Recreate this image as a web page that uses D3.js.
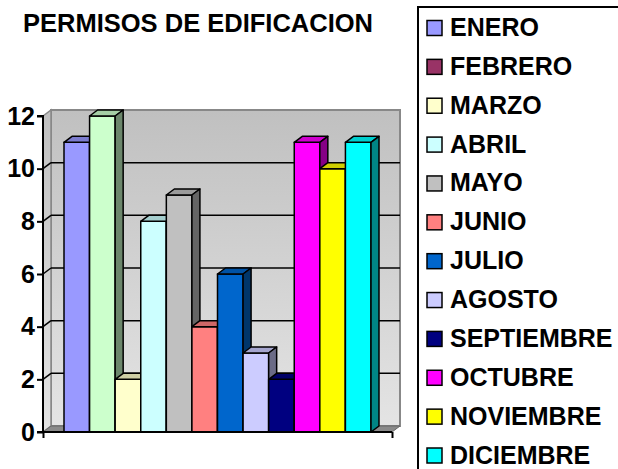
<!doctype html>
<html lang="es">
<head>
    <meta charset="UTF-8">
    <title>Permisos de edificacion</title>
    <style>
        body { margin: 0; background: #fff; }
        text { font-family: Arial, "Liberation Sans", sans-serif; font-weight: bold; }
    </style>
</head>
<body>
    <svg id="chart" width="618" height="469"></svg>
    <script src="https://d3js.org/d3.v7.min.js"></script>
    <script>
        // data
        let months = ["ENERO", "FEBRERO", "MARZO", "ABRIL", "MAYO", "JUNIO",
            "JULIO", "AGOSTO", "SEPTIEMBRE", "OCTUBRE", "NOVIEMBRE", "DICIEMBRE"];
        let permits = [11, 12, 2, 8, 9, 4, 6, 3, 2, 11, 10, 11];
        let yTicks = [0, 2, 4, 6, 8, 10, 12];
        let title = "PERMISOS DE EDIFICACION";

        // legend colours, and the bar colours (the february bar is drawn green in the original)
        let legendColors = ["#9999FF", "#993366", "#FFFFCC", "#CCFFFF", "#C0C0C0", "#FF8080",
            "#0066CC", "#CCCCFF", "#000080", "#FF00FF", "#FFFF00", "#00FFFF"];
        let barColors = ["#9999FF", "#CCFFCC", "#FFFFCC", "#CCFFFF", "#C0C0C0", "#FF8080",
            "#0066CC", "#CCCCFF", "#000080", "#FF00FF", "#FFFF00", "#00FFFF"];

        let svg = d3.select("#chart");

        // plot frame
        let left = 43, right = 392, base = 432;
        let dx = 8, dy = 6;

        let y = d3.scaleLinear().domain([0, 12]).range([base, 116]);
        let x = d3.scaleBand().domain(months).range([64, 371]).padding(0);

        let defs = svg.append("defs");
        let grad = defs.append("linearGradient")
            .attr("id", "wall").attr("x1", 0).attr("y1", 0).attr("x2", 0).attr("y2", 1);
        grad.append("stop").attr("offset", "0%").attr("stop-color", "#C0C0C0");
        grad.append("stop").attr("offset", "100%").attr("stop-color", "#E4E4E4");

        let yTop = y(12);

        // back wall
        svg.append("rect")
            .attr("x", left + dx).attr("y", yTop - dy)
            .attr("width", right - left).attr("height", base - yTop)
            .attr("fill", "url(#wall)")
            .attr("stroke", "#888").attr("stroke-width", 2);

        // left wall
        svg.append("polygon")
            .attr("points", [[left, yTop], [left + dx, yTop - dy], [left + dx, base - dy], [left, base]].join(" "))
            .attr("fill", "url(#wall)")
            .attr("stroke", "#888").attr("stroke-width", 1.5);

        // floor
        svg.append("polygon")
            .attr("points", [[left, base], [left + dx, base - dy], [right + dx, base - dy], [right, base]].join(" "))
            .attr("fill", "#8a8a8a")
            .attr("stroke", "#666").attr("stroke-width", 1);

        // gridlines on the walls
        let grid = svg.append("g").attr("stroke", "#000").attr("stroke-width", 1.5);
        yTicks.filter(d => d > 0 && d < 12).forEach(function(v) {
            grid.append("line")
                .attr("x1", left + dx).attr("x2", right + dx)
                .attr("y1", y(v) - dy).attr("y2", y(v) - dy);
            grid.append("line")
                .attr("x1", left).attr("x2", left + dx)
                .attr("y1", y(v)).attr("y2", y(v) - dy);
        });

        // bars, drawn left to right so each one covers the side of the one before
        let shade = (c, k) => d3.rgb(c).darker(k).formatHex();
        let bars = svg.append("g").attr("stroke", "#000").attr("stroke-width", 1.5)
            .attr("stroke-linejoin", "round");
        months.forEach(function(m, i) {
            let x0 = x(m), w = x.bandwidth(), yt = y(permits[i]), c = barColors[i];
            bars.append("rect")
                .attr("x", x0).attr("y", yt)
                .attr("width", w).attr("height", base - yt)
                .attr("fill", c);
            bars.append("polygon")
                .attr("points", [[x0, yt], [x0 + dx, yt - dy], [x0 + w + dx, yt - dy], [x0 + w, yt]].join(" "))
                .attr("fill", shade(c, 0.6));
            bars.append("polygon")
                .attr("points", [[x0 + w, yt], [x0 + w + dx, yt - dy], [x0 + w + dx, base - dy], [x0 + w, base]].join(" "))
                .attr("fill", shade(c, 1.8));
        });

        // axes
        let yAxis = svg.append("g")
            .attr("transform", `translate(${left},0)`)
            .call(d3.axisLeft(y).tickValues(yTicks).tickSize(6).tickPadding(2));
        yAxis.select(".domain").attr("stroke", "#000").attr("stroke-width", 2)
            .attr("d", `M-6,${base}H0V${yTop}H-6`);
        yAxis.selectAll(".tick line").attr("stroke", "#000").attr("stroke-width", 2);
        yAxis.selectAll("text").attr("font-size", 25).attr("font-family", null).attr("fill", "#000");

        let xAxis = svg.append("g")
            .attr("transform", `translate(0,${base})`)
            .call(d3.axisBottom(d3.scaleLinear().range([left, right])).tickValues([0, 1]).tickSize(6).tickFormat(""));
        xAxis.select(".domain").attr("stroke", "#000").attr("stroke-width", 2)
            .attr("d", `M${left},0H${right}`);
        xAxis.selectAll(".tick line").attr("stroke", "#000").attr("stroke-width", 2);

        // title
        svg.append("text")
            .attr("x", 198).attr("y", 32)
            .attr("text-anchor", "middle")
            .attr("font-size", 25.5)
            .text(title);

        // legend
        svg.append("rect")
            .attr("x", 418).attr("y", 7)
            .attr("width", 210).attr("height", 480)
            .attr("fill", "#fff").attr("stroke", "#000").attr("stroke-width", 2);

        let ly = d3.scalePoint().domain(months).range([28, 455.5]);
        let item = svg.append("g").selectAll("g")
            .data(months).enter().append("g")
            .attr("transform", d => `translate(0,${ly(d)})`);
        item.append("rect")
            .attr("x", 427).attr("y", -7.5).attr("width", 15).attr("height", 15)
            .attr("fill", (d, i) => legendColors[i])
            .attr("stroke", "#000").attr("stroke-width", 1.5);
        item.append("text")
            .attr("x", 450).attr("y", 8)
            .attr("font-size", 25)
            .text(d => d);
    </script>
</body>
</html>
